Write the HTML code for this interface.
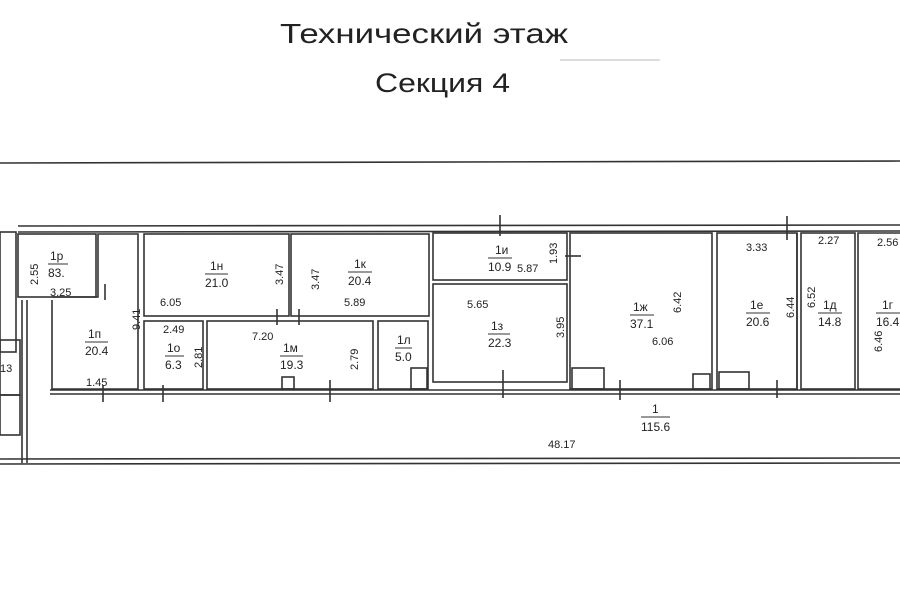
<!DOCTYPE html>
<html><head><meta charset="utf-8"><style>
html,body{margin:0;padding:0;background:#fff;}
svg{display:block;}
text{font-family:"Liberation Sans",sans-serif;fill:#222;}
</style></head><body>
<svg width="900" height="604" viewBox="0 0 900 604" xmlns="http://www.w3.org/2000/svg">
<rect width="900" height="604" fill="#fff"/>
<text x="280" y="43" font-size="28" textLength="288" lengthAdjust="spacingAndGlyphs">Технический этаж</text>
<text x="375" y="92" font-size="27" textLength="135" lengthAdjust="spacingAndGlyphs">Секция 4</text>
<line x1="560" y1="60" x2="660" y2="60" stroke="#bbb" stroke-width="1"/>
<g stroke="#333" fill="none" stroke-width="1.6">
<!-- outer lines -->
<line x1="0" y1="163" x2="900" y2="161"/>
<line x1="18" y1="226" x2="900" y2="225"/>
<line x1="18" y1="232" x2="900" y2="231"/>
<line x1="0" y1="459" x2="900" y2="458"/>
<line x1="0" y1="464" x2="900" y2="463"/>
<line x1="22" y1="300" x2="22" y2="463"/>
<line x1="27" y1="300" x2="27" y2="463"/>
<!-- corridor walls -->
<line x1="50" y1="390" x2="900" y2="390"/>
<line x1="50" y1="394" x2="900" y2="394"/>
<!-- left fragment -->
<rect x="0" y="232" width="16" height="120"/>
<rect x="0" y="340" width="20" height="55"/>
<rect x="0" y="395" width="20" height="40"/>
<!-- 1р -->
<rect x="18" y="234" width="78" height="63"/>
<!-- 1п -->
<polyline points="52,300 52,389 138,389 138,234 98,234 98,297 52,297"/>
<!-- 1н 1к -->
<rect x="144" y="234" width="145" height="82"/>
<rect x="291" y="234" width="138" height="82"/>
<!-- 1о 1м 1л -->
<rect x="144" y="321" width="59" height="68"/>
<rect x="207" y="321" width="166" height="68"/>
<rect x="378" y="321" width="50" height="68"/>
<rect x="411" y="368" width="16" height="21"/>
<rect x="282" y="377" width="12" height="12"/>
<!-- 1и 1з -->
<rect x="433" y="233" width="134" height="47"/>
<rect x="433" y="284" width="134" height="98"/>
<!-- 1ж -->
<rect x="570" y="233" width="142" height="156"/>
<rect x="572" y="368" width="32" height="21"/>
<rect x="693" y="374" width="17" height="15"/>
<!-- 1е -->
<rect x="717" y="233" width="80" height="156"/>
<rect x="719" y="372" width="30" height="17"/>
<!-- 1д -->
<rect x="801" y="233" width="54" height="156"/>
<line x1="797" y1="233" x2="797" y2="389"/>
<!-- 1г -->
<polyline points="900,233 858,233 858,389 900,389"/>
<!-- door ticks -->
<line x1="105" y1="284" x2="105" y2="300"/>
<line x1="103" y1="385" x2="103" y2="402"/>
<line x1="163" y1="385" x2="163" y2="402"/>
<line x1="330" y1="380" x2="330" y2="402"/>
<line x1="277" y1="309" x2="277" y2="325"/>
<line x1="299" y1="309" x2="299" y2="325"/>
<line x1="503" y1="370" x2="503" y2="398"/>
<line x1="620" y1="380" x2="620" y2="400"/>
<line x1="777" y1="380" x2="777" y2="398"/>
<line x1="787" y1="216" x2="787" y2="240"/>
<line x1="500" y1="215" x2="500" y2="236"/>
<line x1="565" y1="256" x2="581" y2="256"/>
</g>
<g font-size="12">
<text x="50" y="260">1р</text><line x1="48" y1="264" x2="68" y2="264" stroke="#333"/>
<text x="48" y="277">83.</text>
<text x="50" y="296" font-size="11">3.25</text>
<text x="38" y="285" font-size="11" transform="rotate(-90 38 285)">2.55</text>
<text x="88" y="338">1п</text><line x1="85" y1="342" x2="108" y2="342" stroke="#333"/>
<text x="85" y="355">20.4</text>
<text x="86" y="386" font-size="11">1.45</text>
<text x="140" y="330" font-size="11" transform="rotate(-90 140 330)">9.41</text>
<text x="210" y="270">1н</text><line x1="205" y1="274" x2="228" y2="274" stroke="#333"/>
<text x="205" y="287">21.0</text>
<text x="160" y="306" font-size="11">6.05</text>
<text x="283" y="285" font-size="11" transform="rotate(-90 283 285)">3.47</text>
<text x="354" y="268">1к</text><line x1="348" y1="272" x2="372" y2="272" stroke="#333"/>
<text x="348" y="285">20.4</text>
<text x="344" y="306" font-size="11">5.89</text>
<text x="319" y="290" font-size="11" transform="rotate(-90 319 290)">3.47</text>
<text x="163" y="333" font-size="11">2.49</text>
<text x="167" y="352">1о</text><line x1="165" y1="356" x2="184" y2="356" stroke="#333"/>
<text x="165" y="369">6.3</text>
<text x="202" y="368" font-size="11" transform="rotate(-90 202 368)">2.81</text>
<text x="252" y="340" font-size="11">7.20</text>
<text x="283" y="352">1м</text><line x1="280" y1="356" x2="303" y2="356" stroke="#333"/>
<text x="280" y="369">19.3</text>
<text x="358" y="370" font-size="11" transform="rotate(-90 358 370)">2.79</text>
<text x="397" y="344">1л</text><line x1="395" y1="348" x2="412" y2="348" stroke="#333"/>
<text x="395" y="361">5.0</text>
<text x="495" y="254">1и</text><line x1="488" y1="258" x2="512" y2="258" stroke="#333"/>
<text x="488" y="271">10.9</text>
<text x="517" y="272" font-size="11">5.87</text>
<text x="557" y="264" font-size="11" transform="rotate(-90 557 264)">1.93</text>
<text x="467" y="308" font-size="11">5.65</text>
<text x="491" y="330">1з</text><line x1="488" y1="334" x2="510" y2="334" stroke="#333"/>
<text x="488" y="347">22.3</text>
<text x="564" y="338" font-size="11" transform="rotate(-90 564 338)">3.95</text>
<text x="633" y="311">1ж</text><line x1="630" y1="315" x2="654" y2="315" stroke="#333"/>
<text x="630" y="328">37.1</text>
<text x="652" y="345" font-size="11">6.06</text>
<text x="681" y="313" font-size="11" transform="rotate(-90 681 313)">6.42</text>
<text x="746" y="251" font-size="11">3.33</text>
<text x="750" y="309">1е</text><line x1="746" y1="313" x2="770" y2="313" stroke="#333"/>
<text x="746" y="326">20.6</text>
<text x="794" y="318" font-size="11" transform="rotate(-90 794 318)">6.44</text>
<text x="818" y="244" font-size="11">2.27</text>
<text x="815" y="308" font-size="11" transform="rotate(-90 815 308)">6.52</text>
<text x="823" y="309">1д</text><line x1="818" y1="313" x2="842" y2="313" stroke="#333"/>
<text x="818" y="326">14.8</text>
<text x="877" y="246" font-size="11">2.56</text>
<text x="882" y="309">1г</text><line x1="876" y1="313" x2="900" y2="313" stroke="#333"/>
<text x="876" y="326">16.4</text>
<text x="882" y="352" font-size="11" transform="rotate(-90 882 352)">6.46</text>
<text x="652" y="413">1</text><line x1="641" y1="417" x2="670" y2="417" stroke="#333"/>
<text x="641" y="431">115.6</text>
<text x="548" y="448" font-size="11">48.17</text>
<text x="0" y="372" font-size="11">13</text>
</g>
</svg>
</body></html>
